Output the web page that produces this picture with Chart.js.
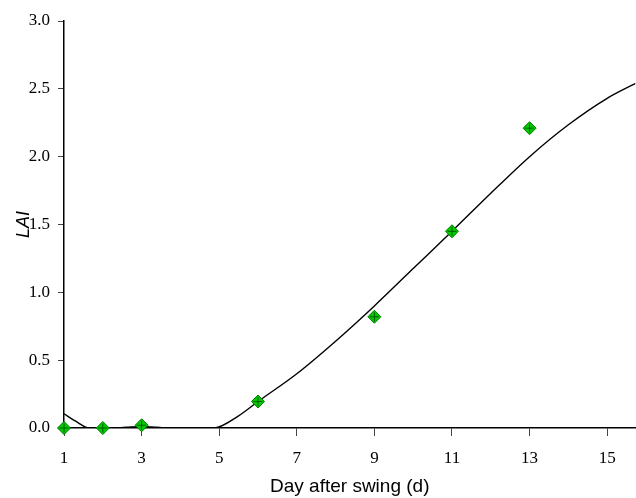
<!DOCTYPE html>
<html lang="en">
<head>
    <meta charset="UTF-8">
    <title>LAI vs day after swing</title>
    <script src="https://cdn.jsdelivr.net/npm/chart.js"></script>
    <style>
        body {
            margin: 0;
            background-color: #fff;
            overflow: hidden;
        }
        canvas {
            display: block;
        }
    </style>
</head>
<body>

    <!-- a bit wider than the window: the plot runs off the right edge like the original -->
    <canvas id="laiChart" width="643" height="498"></canvas>

    <script>
        // measured LAI
        const obsDays = [1, 2, 3, 6, 9, 11, 13];
        const obsLAI = [0, 0, 0.02, 0.195, 0.82, 1.45, 2.21];

        // fitted curve
        const fitDays = [1, 1.3, 1.65, 2.2, 2.6, 3, 3.4, 3.8, 4.85, 5.5, 6, 7, 8, 9, 10, 11, 12, 13, 14, 15, 15.73];
        const fitLAI = [0.105, 0.05, 0, 0, 0.005, 0.01, 0.005, 0, 0, 0.09, 0.195, 0.4, 0.64, 0.9, 1.175, 1.45, 1.73, 2.0, 2.235, 2.43, 2.54];

        const xTicks = [1, 3, 5, 7, 9, 11, 13, 15];
        const yTicks = [0, 0.5, 1.0, 1.5, 2.0, 2.5, 3.0];

        const toPoints = (xs, ys) => xs.map((x, i) => ({ x: x, y: ys[i] }));

        const tickFont = { family: '"Liberation Serif", "Times New Roman", serif', size: 17 };
        const titleFont = { family: '"Liberation Sans", Arial, sans-serif', size: 19 };

        const ctx = document.getElementById('laiChart').getContext('2d');
        const laiChart = new Chart(ctx, {
            type: 'scatter',
            data: {
                datasets: [
                    {
                        label: 'cross',
                        data: toPoints(obsDays, obsLAI),
                        pointStyle: 'cross',
                        pointRadius: 4.5,
                        borderColor: '#005a00',
                        borderWidth: 1,
                        clip: false
                    },
                    {
                        label: 'LAI',
                        data: toPoints(obsDays, obsLAI),
                        pointStyle: 'rectRot',
                        pointRadius: 6.5,
                        backgroundColor: '#00cc00',
                        borderColor: '#007a00',
                        borderWidth: 1,
                        clip: false
                    },
                    {
                        label: 'fit',
                        data: toPoints(fitDays, fitLAI),
                        showLine: true,
                        pointRadius: 0,
                        borderColor: '#000',
                        borderWidth: 1.4,
                        cubicInterpolationMode: 'monotone'
                    }
                ]
            },
            options: {
                responsive: false,
                animation: false,
                layout: {
                    padding: { top: 21, right: 0, left: 0, bottom: 0 }
                },
                plugins: {
                    legend: { display: false },
                    tooltip: { enabled: false }
                },
                scales: {
                    x: {
                        type: 'linear',
                        min: 1,
                        max: 15.73,
                        afterBuildTicks: s => { s.ticks = xTicks.map(v => ({ value: v })); },
                        afterFit: s => { s.height = 70; },
                        border: { display: true, color: '#000', width: 1.5 },
                        grid: { drawOnChartArea: false, drawTicks: true, tickLength: 8, color: '#444' },
                        ticks: { font: tickFont, color: '#000', padding: 12, maxRotation: 0 },
                        title: { display: true, text: 'Day after swing (d)', font: titleFont, color: '#000', padding: { top: 0, bottom: 0 } }
                    },
                    y: {
                        min: 0,
                        max: 3,
                        afterBuildTicks: s => { s.ticks = yTicks.map(v => ({ value: v })); },
                        afterFit: s => { s.width = 64; },
                        border: { display: true, color: '#000', width: 1.5 },
                        grid: { drawOnChartArea: false, drawTicks: true, tickLength: 6, color: '#444' },
                        ticks: { font: tickFont, color: '#000', padding: 8, callback: v => v.toFixed(1) },
                        title: { display: true, text: 'LAI', font: Object.assign({}, titleFont, { size: 18, style: 'italic' }), color: '#000', padding: { top: 13, bottom: 13 } }
                    }
                }
            }
        });
    </script>

</body>
</html>
